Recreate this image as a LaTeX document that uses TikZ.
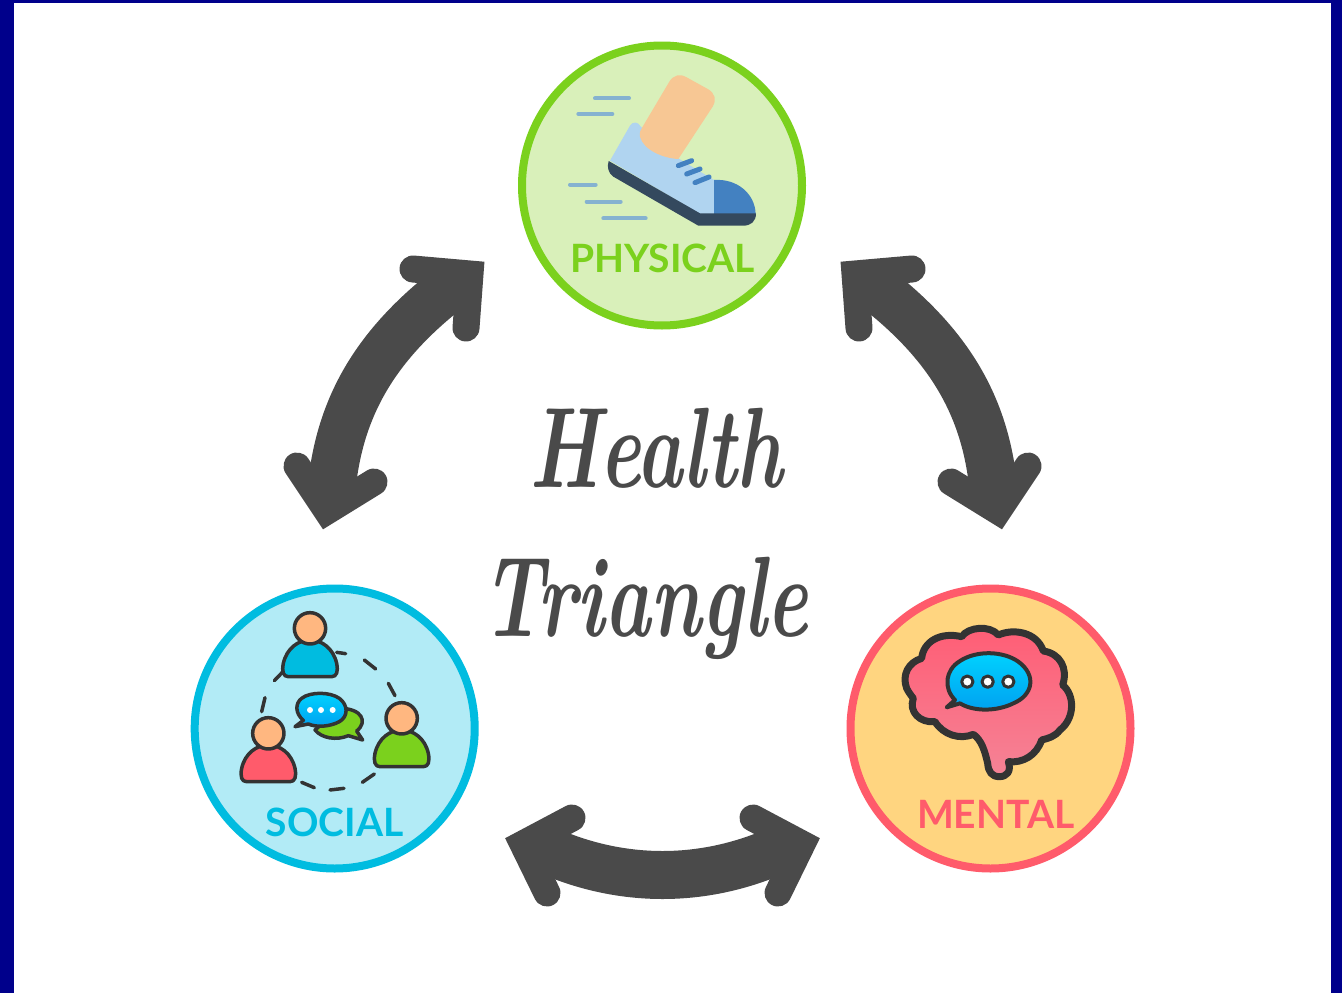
\documentclass[tikz,border=0pt]{standalone}
\usepackage{fontspec}
\newfontfamily\labelfont{Lato}
\definecolor{framenavy}{HTML}{00008B}
\definecolor{arrowgrey}{HTML}{4A4A4A}
\definecolor{inkdark}{HTML}{333333}
\definecolor{phyline}{HTML}{7BD11D}
\definecolor{phyfill}{HTML}{D9F0BA}
\definecolor{socline}{HTML}{00BCE0}
\definecolor{socfill}{HTML}{B2EBF6}
\definecolor{menline}{HTML}{FF5B6B}
\definecolor{menfill}{HTML}{FFD580}
\definecolor{legskin}{HTML}{F7C794}
\definecolor{shoelight}{HTML}{B0D4F0}
\definecolor{shoeblue}{HTML}{4381C1}
\definecolor{shoesole}{HTML}{34495E}
\definecolor{speedline}{HTML}{85B2D0}
\definecolor{headskin}{HTML}{FFB780}
\definecolor{bubbletop}{HTML}{00D4FF}
\definecolor{bubblelow}{HTML}{00A0F0}
\definecolor{braintop}{HTML}{FF5D75}
\definecolor{brainlow}{HTML}{F58396}
\tikzset{
  badge/.style={circle,draw=#1,line width=8pt,minimum size=280pt,inner sep=0pt,outer sep=0pt},
  badgetext/.style={text=#1,font=\labelfont\bfseries\fontsize{39}{39}\selectfont,inner sep=0pt},
  titletext/.style={text=arrowgrey,anchor=base,inner sep=0pt,xscale=0.89,yscale=1.3,font=\rmfamily\bfseries\itshape\fontsize{88}{88}\selectfont},
  arrowbody/.style={draw=arrowgrey,line width=48pt,line cap=butt},
  arrowhead/.style={draw=arrowgrey,line width=27pt,line cap=round,line join=miter,miter limit=10},
  speed/.style={draw=speedline,line width=4pt,line cap=round},
  lace/.style={draw=shoeblue,line width=5pt,line cap=round},
  icon/.style={draw=inkdark,line width=3.5pt,line join=round},
  orbit/.style={draw=inkdark,line width=3.5pt,line cap=round},
  zoomed/.style={scale=1/3},
}
\newcommand{\PersonIcon}[3]{%
  \begin{scope}[shift={(#1,#2)}]
    \path[icon,fill=#3] (-65,145) -- (65,145) .. controls (80,145) and (85,130) .. (80,105)
      .. controls (70,60) and (35,35) .. (0,35) .. controls (-35,35) and (-70,60) .. (-80,105)
      .. controls (-85,130) and (-80,145) .. (-65,145) -- cycle;
    \path[icon,fill=headskin] (0,0) circle[radius=47];
  \end{scope}}
\begin{document}
\begin{tikzpicture}[x=1pt,y=-1pt]
\useasboundingbox (0,0) rectangle (1342,993);
\fill[framenavy] (0,0) rectangle (1342,993);
\fill[white] (14,3) rectangle (1331,993);

% badges
\node[badge=phyline,fill=phyfill] (physical) at (662,185.5) {};
\node[badge=socline,fill=socfill] (social) at (334.7,728.5) {};
\node[badge=menline,fill=menfill] (mental) at (990.5,728.5) {};

% shoe
\begin{scope}[shift={(510,30)},zoomed]
  \foreach \xa/\xb/\yy in {255/357/205,205/307/252,180/257/464,230/332/515,280/407/565}
    \draw[speed] (\xa,\yy) -- (\xb,\yy);
  \fill[shoelight] (300,392) -- (360,287) .. controls (368,274) and (385,274) .. (392,290)
     -- (505,385) -- (612,450) -- (612,552) -- (570,552) -- cycle;
  \fill[shoeblue] (612,450) .. controls (680,445) and (735,490) .. (737,552) -- (612,552) -- cycle;
  \fill[shoesole] (296,393) -- (570,550) -- (738,550) .. controls (738,575) and (722,587) .. (700,587)
     -- (565,587) -- (310,440) .. controls (295,430) and (290,410) .. (296,393) -- cycle;
  \fill[legskin] (478,155) .. controls (490,135) and (510,130) .. (530,142) -- (595,178)
     .. controls (615,190) and (620,210) .. (608,230) -- (505,387)
     .. controls (460,385) and (400,360) .. (390,320) .. controls (388,305) and (392,300) .. (398,290) -- cycle;
  \draw[lace] (505,407) -- (545,392);
  \draw[lace] (530,432) -- (570,417);
  \draw[lace] (555,458) -- (597,441);
\end{scope}
\node[badgetext=phyline] (physicallabel) at (662.7,258) {PHYSICAL};

% social icon
\begin{scope}[shift={(180,575)},zoomed]
  \draw[orbit] (470,232) -- (497,236);
  \draw[orbit] (553,255) -- (587,282);
  \draw[orbit] (625,325) -- (645,362);
  \draw[orbit] (283,317) -- (307,292);
  \draw[orbit] (255,368) -- (245,410);
  \draw[orbit] (365,622) -- (403,638);
  \draw[orbit] (450,645) -- (492,640);
  \draw[orbit] (547,622) -- (583,597);
  \PersonIcon{390}{160}{socline}
  \PersonIcon{265}{475}{menline}
  \PersonIcon{665}{430}{phyline}
  \path[icon,fill=phyline] (530,468) -- (548,495) -- (505,482) .. controls (470,497) and (425,490) .. (405,465)
     -- (480,400) .. controls (545,400) and (565,440) .. (530,468) -- cycle;
  \path[icon,top color=bubbletop,bottom color=bubblelow] (370,436) .. controls (345,415) and (345,385) .. (365,370)
     .. controls (390,350) and (450,350) .. (478,370) .. controls (505,390) and (505,425) .. (478,440)
     .. controls (450,455) and (410,458) .. (385,447) -- (345,455) -- cycle;
  \foreach \cx in {390,423,458} \fill[white] (\cx,405) circle[radius=9];
\end{scope}
\node[badgetext=socline] (sociallabel) at (334.7,822) {SOCIAL};

% brain icon
\begin{scope}[shift={(840,575)},zoomed]
  \path[draw=inkdark,line width=7pt,line join=round,top color=braintop,bottom color=brainlow]
     (200,340) .. controls (185,300) and (205,262) .. (245,250)
     .. controls (250,200) and (300,170) .. (365,185)
     .. controls (385,155) and (450,150) .. (475,180)
     .. controls (520,160) and (590,170) .. (610,228)
     .. controls (660,235) and (685,280) .. (668,330)
     .. controls (705,360) and (705,430) .. (660,465)
     .. controls (645,485) and (625,490) .. (605,495)
     .. controls (590,540) and (550,565) .. (505,560)
     .. controls (515,590) and (500,605) .. (478,605)
     .. controls (455,605) and (445,590) .. (443,565)
     .. controls (435,530) and (425,495) .. (400,478)
     .. controls (360,495) and (310,480) .. (285,440)
     .. controls (240,445) and (205,410) .. (220,370)
     .. controls (212,360) and (205,350) .. (200,340) -- cycle;
  \path[icon,line width=4pt,top color=bubbletop,bottom color=bubblelow]
     (345,375) .. controls (310,340) and (315,285) .. (360,258)
     .. controls (410,225) and (490,228) .. (535,260)
     .. controls (590,300) and (580,360) .. (520,385)
     .. controls (470,410) and (400,410) .. (360,385) -- (320,397) -- cycle;
  \foreach \cx in {382,443,505} \path[icon,line width=3pt,fill=white] (\cx,320) circle[radius=17];
\end{scope}
\node[badgetext=menline] (mentallabel) at (995.7,814) {MENTAL};

% arrows
\coordinate (lb) at (331,495); \coordinate (lt) at (461,279);
\coordinate (rb) at (994,495); \coordinate (rt) at (864,279);
\coordinate (bl) at (530,842); \coordinate (br) at (795,842);
\draw[arrowbody] (lb) .. controls (338,405) and (378,340) .. (lt);
\draw[arrowhead] (413,269) -- (470,274) -- (466,328);
\draw[arrowhead] (297,466) -- (327,511) -- (374,482);
\draw[arrowbody] (rb) .. controls (987,405) and (947,340) .. (rt);
\draw[arrowhead] (912,269) -- (855,274) -- (859,328);
\draw[arrowhead] (1028,466) -- (998,511) -- (951,482);
\draw[arrowbody] (bl) .. controls (615,886) and (710,886) .. (br);
\draw[arrowhead] (572,818) -- (523,844) -- (547,893);
\draw[arrowhead] (753,818) -- (802,844) -- (778,893);

% title
\node[titletext] (health) at (656,487) {\addfontfeature{LetterSpace=4}Health};
\node[titletext] (triangle) at (645,636) {\addfontfeature{LetterSpace=4}Triangle};
\end{tikzpicture}
\end{document}
